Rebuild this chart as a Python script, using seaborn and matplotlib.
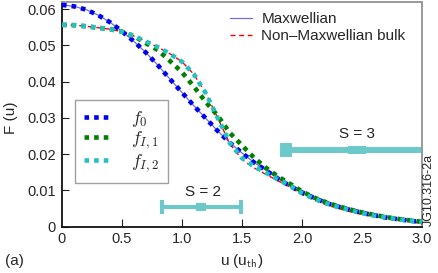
import numpy as np
import matplotlib
matplotlib.use("Agg")
import matplotlib.pyplot as plt
import seaborn as sns

# velocity grid (u / u_th) and values
u = np.linspace(0, 3.0, 31)

f0 = [0.0612, 0.0608, 0.0599, 0.0584, 0.0564, 0.0539, 0.0511, 0.0480, 0.0445, 0.0407,
      0.0370, 0.0333, 0.0298, 0.0263, 0.0231, 0.0203, 0.0177, 0.0155, 0.0132, 0.0112,
      0.0094, 0.0079, 0.0065, 0.0055, 0.0046, 0.0038, 0.0031, 0.0025, 0.0020, 0.0016, 0.0012]
f_i1 = [0.0557, 0.0556, 0.0553, 0.0549, 0.0545, 0.0538, 0.0526, 0.0506, 0.0487, 0.0457,
        0.0426, 0.0386, 0.0343, 0.0305, 0.0258, 0.0224, 0.0190, 0.0162, 0.0138, 0.0118,
        0.0097, 0.0080, 0.0067, 0.0056, 0.0047, 0.0039, 0.0032, 0.0026, 0.0021, 0.0017, 0.0013]
f_i2 = [0.0557, 0.0556, 0.0553, 0.0549, 0.0545, 0.0538, 0.0526, 0.0511, 0.0495, 0.0477,
        0.0455, 0.0420, 0.0367, 0.0298, 0.0230, 0.0189, 0.0166, 0.0148, 0.0130, 0.0113,
        0.0092, 0.0077, 0.0064, 0.0054, 0.0045, 0.0037, 0.0030, 0.0025, 0.0020, 0.0016, 0.0012]
maxwellian = f0
non_maxwellian = [0.0557, 0.0556, 0.0553, 0.0549, 0.0545, 0.0538, 0.0526, 0.0511, 0.0495, 0.0477,
                  0.0455, 0.0420, 0.0367, 0.0298, 0.0228, 0.0185, 0.0162, 0.0144, 0.0126, 0.0109,
                  0.0088, 0.0073, 0.0060, 0.0050, 0.0041, 0.0033, 0.0027, 0.0021, 0.0017, 0.0013, 0.0009]

# horizontal bars S = 2 and S = 3
s_labels = ["S = 2", "S = 3"]
s_center = [1.16, 2.46]
s_half = [0.33, 0.59]
s_level = [0.0054, 0.0211]
s_text_pos = [(1.175, 0.0095), (2.455, 0.0256)]

x_ticks = [0, 0.5, 1.0, 1.5, 2.0, 2.5, 3.0]
x_ticklabels = ["0", "0.5", "1.0", "1.5", "2.0", "2.5", "3.0"]
y_ticks = [0, 0.01, 0.02, 0.03, 0.04, 0.05, 0.06]
y_ticklabels = ["0", "0.01", "0.02", "0.03", "0.04", "0.05", "0.06"]

sns.set_style("ticks")
plt.rcParams["font.family"] = ["Liberation Sans", "DejaVu Sans"]
plt.rcParams["mathtext.fontset"] = "cm"

fig = plt.figure(figsize=(4.38, 2.73), dpi=100)
ax = fig.add_axes([62 / 438, 46.5 / 273, 360 / 438, 224.5 / 273])

dot = (0, (1, 1.1))
sns.lineplot(x=u, y=maxwellian, ax=ax, color="#6e6ee0", lw=0.9, label="Maxwellian", zorder=2)
sns.lineplot(x=u, y=non_maxwellian, ax=ax, color="#ff0000", lw=1.0,
             linestyle=(0, (3.6, 2.6)), label="Non\u2013Maxwellian bulk", zorder=2)
sns.lineplot(x=u, y=f0, ax=ax, color="#0000f0", lw=3.3, linestyle=dot, label="$f_0$", zorder=3)
sns.lineplot(x=u, y=f_i1, ax=ax, color="#008000", lw=3.3, linestyle=dot, label="$f_{I,1}$", zorder=3)
sns.lineplot(x=u, y=f_i2, ax=ax, color="#22c2c2", lw=3.3, linestyle=dot, label="$f_{I,2}$", zorder=3)

# error-bar like ranges
bar_color = "#6cc9c9"
line_w = [2.9, 4.3]
cap_w = [2.9, 8.6]
box_size = [7.9, 13.0]
box_aspect = [8 / 11, 8 / 18]
for i in range(2):
    ax.errorbar(s_center[i], s_level[i], xerr=s_half[i], fmt="none", ecolor=bar_color,
                elinewidth=line_w[i], capsize=5, capthick=cap_w[i], zorder=1)
    a = box_aspect[i]
    verts = [(-1, -a), (1, -a), (1, a), (-1, a), (-1, -a)]
    ax.plot(s_center[i], s_level[i], marker=verts, markersize=box_size[i],
            color=bar_color, markeredgewidth=0, zorder=1)
    ax.text(s_text_pos[i][0], s_text_pos[i][1], s_labels[i], fontsize=11,
            ha="center", va="center", color="#222222")

ax.set_xlim(0, 3.0)
ax.set_ylim(0, 0.062)
ax.set_xticks(x_ticks)
ax.set_xticklabels(x_ticklabels)
ax.set_yticks(y_ticks)
ax.set_yticklabels(y_ticklabels)
ax.tick_params(axis="both", direction="in", labelsize=10.5, color="#222222", width=0.8)
ax.tick_params(axis="x", length=6, pad=4)
ax.tick_params(axis="y", length=5, pad=4.5)
for i in [0, 5, 6]:
    ax.xaxis.get_major_ticks()[i].tick1line.set_visible(False)

for side in ["left", "bottom"]:
    ax.spines[side].set_color("#111111")
    ax.spines[side].set_linewidth(1.3)
for side in ["top", "right"]:
    ax.spines[side].set_visible(True)
    ax.spines[side].set_color("#999999")
    ax.spines[side].set_linewidth(1.4)

ax.set_xlabel("u (u$_\\mathsf{th}$)", fontsize=11)
ax.xaxis.set_label_coords(0.5, -0.115)
ax.set_ylabel("F (u)", fontsize=11)
ax.yaxis.set_label_coords(-0.122, 0.483)

handles, labels = ax.get_legend_handles_labels()
leg1 = ax.legend(handles[:2], labels[:2], loc="upper left", bbox_to_anchor=(0.467, 0.955),
                 frameon=False, fontsize=11, handlelength=1.45, handletextpad=0.6,
                 borderpad=0, borderaxespad=0, labelspacing=0.2)
ax.add_artist(leg1)
leg2 = ax.legend(handles[2:], labels[2:], loc="upper left", bbox_to_anchor=(0.036, 0.5635),
                 frameon=True, fancybox=False, fontsize=13, handlelength=1.4,
                 handletextpad=1.2, borderpad=0.5, borderaxespad=0, labelspacing=0.05)
leg2.get_frame().set_edgecolor("#888888")
leg2.get_frame().set_linewidth(1.0)

fig.text(14 / 438, 1 - 260.5 / 273, "(a)", fontsize=11, ha="center", va="center")
fig.text(429 / 438, 1 - 190 / 273, "JG10.316-2a", fontsize=9, rotation=90,
         ha="center", va="center")

fig.savefig("out.png", dpi=100)
